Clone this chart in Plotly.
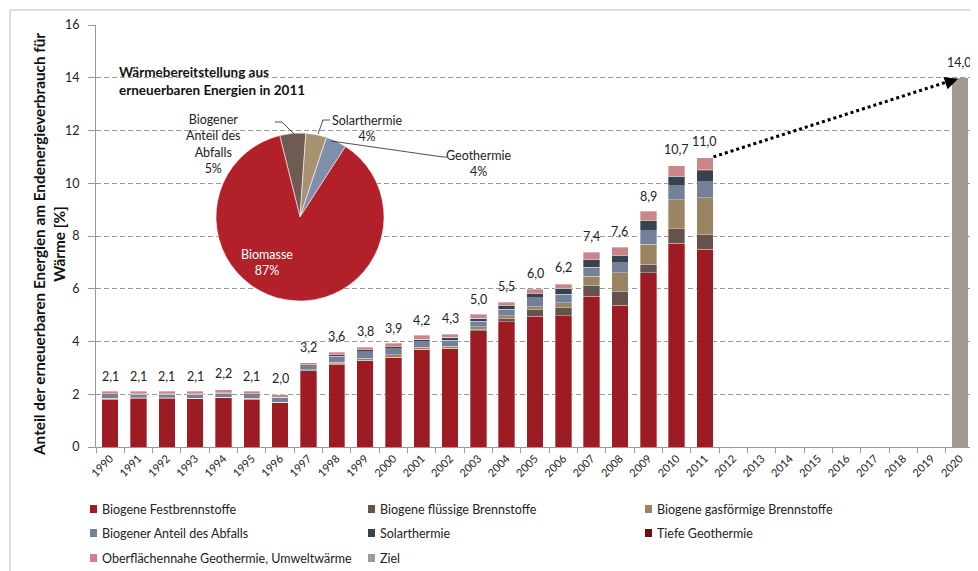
import plotly.graph_objects as go

# ---------------- data ----------------
years = [str(y) for y in range(1990, 2021)]

# components 1990..2011 (share of final heat consumption, %)
fest = [1.82, 1.85, 1.85, 1.83, 1.87, 1.82, 1.68, 2.89, 3.13, 3.27, 3.39,
        3.68, 3.72, 4.40, 4.75, 4.95, 4.98, 5.72, 5.37, 6.61, 7.72, 7.49]
fluessig = [0.01, 0.01, 0.01, 0.01, 0.01, 0.01, 0.01, 0.01, 0.02, 0.02, 0.02,
            0.03, 0.03, 0.06, 0.12, 0.26, 0.30, 0.42, 0.52, 0.32, 0.56, 0.56]
gas = [0.01, 0.01, 0.01, 0.01, 0.01, 0.01, 0.01, 0.03, 0.06, 0.08, 0.09,
       0.07, 0.07, 0.10, 0.10, 0.11, 0.19, 0.33, 0.71, 0.76, 1.09, 1.40]
abfall = [0.15, 0.13, 0.13, 0.15, 0.14, 0.15, 0.17, 0.15, 0.24, 0.24, 0.23,
          0.21, 0.22, 0.21, 0.25, 0.34, 0.33, 0.35, 0.38, 0.51, 0.53, 0.60]
solar = [0.02, 0.02, 0.02, 0.02, 0.03, 0.02, 0.02, 0.03, 0.04, 0.08, 0.08,
         0.10, 0.12, 0.12, 0.14, 0.15, 0.20, 0.28, 0.27, 0.37, 0.35, 0.43]
tief = [0.0, 0.0, 0.0, 0.0, 0.0, 0.0, 0.0, 0.0, 0.0, 0.0, 0.0,
        0.0, 0.0, 0.0, 0.01, 0.01, 0.01, 0.01, 0.01, 0.02, 0.02, 0.03]
oberfl = [0.10, 0.10, 0.10, 0.10, 0.12, 0.10, 0.09, 0.09, 0.11, 0.10, 0.13,
          0.14, 0.12, 0.14, 0.12, 0.16, 0.17, 0.27, 0.31, 0.35, 0.40, 0.45]
ziel_value = 14.0

# total labels 1990..2011
totals = [2.1, 2.1, 2.1, 2.1, 2.2, 2.1, 2.0, 3.2, 3.6, 3.8, 3.9,
          4.2, 4.3, 5.0, 5.5, 6.0, 6.2, 7.4, 7.6, 8.9, 10.7, 11.0]

# pie 2011
pie_labels = ["Biogener Anteil des Abfalls", "Solarthermie", "Geothermie", "Biomasse"]
pie_values = [5, 4, 4, 87]

y_ticks = [0, 2, 4, 6, 8, 10, 12, 14, 16]

# ---------------- layout helpers ----------------
FONT = "Lato, Carlito, Calibri, sans-serif"
OFF = 8                      # page body margin
W, H = 970, 563
L, R, T, B = 88, 4, 17, 124
PW, PH = W - L - R, H - T - B


def px(x):                   # screen pixel -> paper x
    return (x - OFF - L) / PW


def py(y):                   # screen pixel -> paper y
    return (OFF + T + PH - y) / PH


def fmt(v):
    return f"{v:.1f}".replace(".", ",")


n_empty = len(years) - len(fest)
pad = [None] * n_empty

series = [
    ("Biogene Festbrennstoffe", fest, "#9D1B22"),
    ("Biogene flüssige Brennstoffe", fluessig, "#65524A"),
    ("Biogene gasförmige Brennstoffe", gas, "#9A8462"),
    ("Biogener Anteil des Abfalls", abfall, "#738099"),
    ("Solarthermie", solar, "#37424F"),
    ("Tiefe Geothermie", tief, "#6E1010"),
    ("Oberflächennahe Geothermie, Umweltwärme", oberfl, "#C98588"),
]
ziel_color = "#A29A94"

fig = go.Figure()
for name, vals, col in series:
    fig.add_trace(go.Bar(
        x=years, y=vals + pad, name=name,
        marker=dict(color=col, line=dict(color="rgba(255,255,255,0.55)", width=0.6)),
        showlegend=False,
    ))
fig.add_trace(go.Bar(
    x=years, y=[None] * (len(years) - 1) + [ziel_value], name="Ziel",
    marker=dict(color=ziel_color, line=dict(width=0)), showlegend=False,
))

fig.add_trace(go.Pie(
    labels=pie_labels, values=pie_values, sort=False, direction="clockwise",
    rotation=-14,
    marker=dict(colors=["#6E5B52", "#A89272", "#7F8EAA", "#B2202A"],
                line=dict(color="rgba(255,255,255,0.7)", width=0.8)),
    textinfo="none", hoverinfo="label+percent", showlegend=False,
    domain=dict(x=[px(216), px(384)], y=[py(301), py(133)]),
))

annotations = []
# value labels (category index positions)
for i, v in enumerate(totals):
    annotations.append(dict(x=i, y=v, xref="x", yref="y", text=fmt(v), showarrow=False,
                            xanchor="center", yanchor="bottom", yshift=6,
                            font=dict(size=12.5, color="#222", family=FONT)))
annotations.append(dict(x=len(years) - 1, y=ziel_value, xref="x", yref="y", text=fmt(ziel_value),
                        showarrow=False, xanchor="center", yanchor="bottom", yshift=6,
                        font=dict(size=12.5, color="#222", family=FONT)))

# arrow head of dotted target line
annotations.append(dict(x=29.93, y=13.95, xref="x", yref="y", text="", showarrow=True,
                        ax=-12, ay=4, arrowhead=2, arrowsize=1.3, arrowwidth=2,
                        arrowcolor="black", standoff=0))

# y-axis title
annotations.append(dict(x=px(49), y=py(245), xref="paper", yref="paper", textangle=-90,
                        xanchor="center", yanchor="middle",
                        text="<b>Anteil der erneuerbaren Energien am Endenergieverbrauch für<br>Wärme [%]</b>",
                        showarrow=False, font=dict(size=15.3, color="#111", family=FONT)))

# pie title
annotations.append(dict(x=px(117), y=py(81), xref="paper", yref="paper", xanchor="left",
                        yanchor="middle", align="left", showarrow=False,
                        text="<b>Wärmebereitstellung aus<br>erneuerbaren Energien in 2011</b>",
                        font=dict(size=13.5, color="#111", family=FONT)))

# pie labels
pie_ann = [
    ("Biogener<br>Anteil des<br>Abfalls<br>5%", 213, 144, "#222"),
    ("Solarthermie<br>4%", 367, 128, "#222"),
    ("Geothermie<br>4%", 479, 163, "#222"),
    ("Biomasse<br>87%", 267, 263, "white"),
]
for txt, x, y, c in pie_ann:
    annotations.append(dict(x=px(x), y=py(y), xref="paper", yref="paper", text=txt,
                            showarrow=False, align="center", xanchor="center", yanchor="middle",
                            font=dict(size=12.5, color=c, family=FONT)))

shapes = []
# leader lines
for pts in [[(275, 122), (282, 122), (294, 134)],
            [(330, 120), (323, 120), (318, 134)],
            [(331, 141), (443, 157), (447, 157)]]:
    path = "M " + " L ".join(f"{px(a):.5f},{py(b):.5f}" for a, b in pts)
    shapes.append(dict(type="path", path=path, xref="paper", yref="paper",
                       line=dict(color="#222", width=0.8)))

# dotted line from 2011 to 2020 target
shapes.append(dict(type="line", xref="x", yref="y", x0=21.3, y0=totals[-1], x1=29.6, y1=13.86,
                   line=dict(color="black", width=3, dash="dot")))

# outer frame
shapes.append(dict(type="rect", xref="paper", yref="paper", x0=px(10), y0=py(600),
                   x1=px(1000), y1=py(10), line=dict(color="#BDBDBD", width=1),
                   fillcolor="rgba(0,0,0,0)", layer="below"))

# custom legend
legend_items = [(s[0], s[2]) for s in series] + [("Ziel", ziel_color)]
cols = [90, 368, 645]
rows = [509, 533, 558]
for i, (name, col) in enumerate(legend_items):
    cx, cy = cols[i % 3], rows[i // 3]
    shapes.append(dict(type="rect", xref="paper", yref="paper",
                       x0=px(cx), x1=px(cx + 7), y0=py(cy + 4), y1=py(cy - 4),
                       fillcolor=col, line=dict(width=0)))
    annotations.append(dict(x=px(cx + 10), y=py(cy), xref="paper", yref="paper",
                            xanchor="left", yanchor="middle", text=name, showarrow=False,
                            font=dict(size=12.5, color="#222", family=FONT)))

fig.update_layout(
    width=W, height=H, barmode="stack", bargap=0.42,
    margin=dict(l=L, r=R, t=T, b=B),
    paper_bgcolor="white", plot_bgcolor="white",
    font=dict(family=FONT, size=12, color="#222"),
    annotations=annotations, shapes=shapes, showlegend=False,
    xaxis=dict(type="category", categoryorder="array", categoryarray=years,
               range=[-0.5, len(years) - 0.5], tickangle=-45, tickson="boundaries",
               ticks="outside", ticklen=5, tickcolor="#999", showline=True,
               linecolor="#999", linewidth=1, showgrid=False,
               tickfont=dict(size=11, color="#222", family=FONT)),
    yaxis=dict(range=[0, 16], tickvals=y_ticks, ticks="outside", ticklen=7,
               tickcolor="#999", showline=True, linecolor="#999", linewidth=1,
               showgrid=True, gridcolor="#999999", griddash="5px,3px", gridwidth=1,
               zeroline=False, ticklabelstandoff=6,
               tickfont=dict(size=12.5, color="#222", family=FONT)),
)

fig.write_html("out.html")
